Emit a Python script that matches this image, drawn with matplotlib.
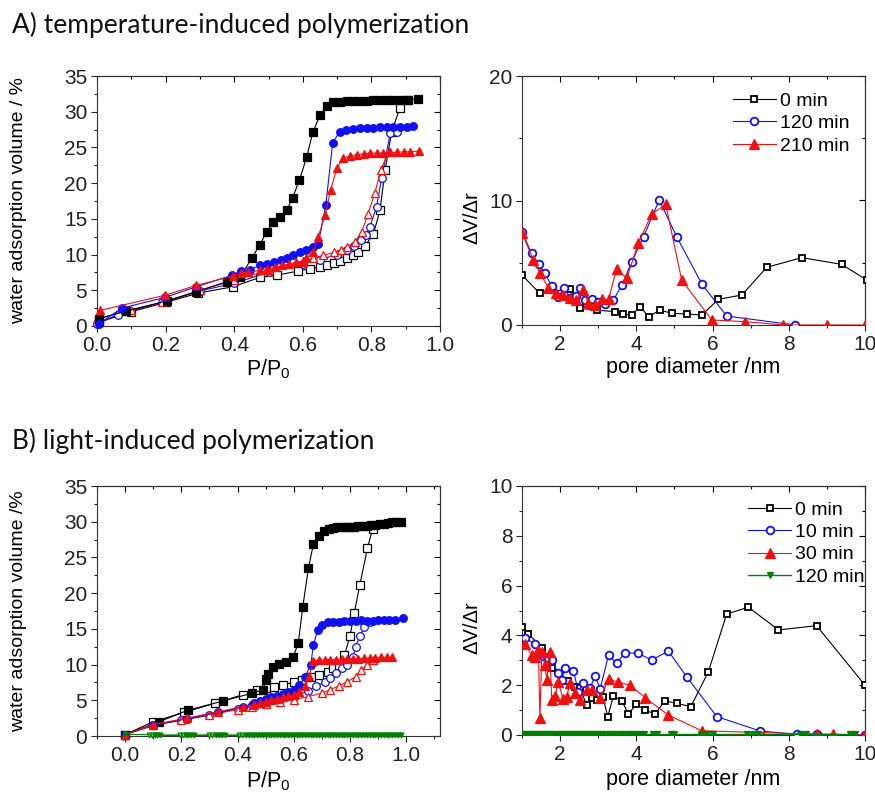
import matplotlib
matplotlib.use("Agg")
import matplotlib.pyplot as plt
from matplotlib.ticker import MultipleLocator, FormatStrFormatter

plt.rcParams['font.family'] = ['Liberation Sans', 'DejaVu Sans']
plt.rcParams['mathtext.fontset'] = 'custom'
plt.rcParams['mathtext.rm'] = 'Liberation Sans'
plt.rcParams['mathtext.it'] = 'Liberation Sans'

# ---------------- A) temperature-induced: water isotherms ----------------
a0_des_p = [0.005, 0.086, 0.203, 0.29, 0.378, 0.417, 0.451, 0.475, 0.495, 0.514, 0.534, 0.553, 0.57,
            0.59, 0.611, 0.629, 0.65, 0.67, 0.687, 0.709, 0.728, 0.747, 0.767, 0.786, 0.806, 0.825,
            0.845, 0.864, 0.883, 0.903, 0.937]
a0_des_v = [1.0, 2.1, 3.5, 4.8, 6.2, 6.8, 9.5, 11.4, 13.2, 14.5, 15.2, 16.2, 17.9, 20.4, 23.6, 27.1,
            29.5, 30.8, 31.3, 31.4, 31.5, 31.5, 31.5, 31.5, 31.6, 31.6, 31.6, 31.6, 31.6, 31.7, 31.8]
a0_ads_p = [0.005, 0.1, 0.2, 0.295, 0.397, 0.475, 0.524, 0.587, 0.621, 0.65, 0.67, 0.69, 0.709,
            0.728, 0.747, 0.762, 0.781, 0.806, 0.825, 0.84, 0.859, 0.883, 0.908]
a0_ads_v = [0.5, 2.0, 3.3, 4.6, 5.5, 6.8, 7.1, 7.7, 8.0, 8.3, 8.5, 8.8, 9.1, 9.5, 9.9, 10.3, 11.2,
            12.9, 16.2, 21.8, 27.2, 30.5, 31.6]

a120_des_p = [0.005, 0.072, 0.198, 0.29, 0.393, 0.42, 0.446, 0.475, 0.497, 0.516, 0.535, 0.553, 0.572,
              0.592, 0.609, 0.629, 0.645, 0.667, 0.687, 0.707, 0.726, 0.746, 0.766, 0.786, 0.806,
              0.825, 0.845, 0.864, 0.883, 0.903, 0.922]
a120_des_v = [0.3, 2.5, 4.0, 5.5, 7.1, 7.7, 7.9, 8.5, 8.7, 8.9, 9.2, 9.5, 9.9, 10.3, 10.6, 11.1, 11.5,
              16.9, 25.6, 27.2, 27.5, 27.6, 27.7, 27.7, 27.7, 27.8, 27.8, 27.8, 27.9, 27.9, 28.0]
a120_ads_p = [0.0, 0.06, 0.19, 0.3, 0.4, 0.5, 0.6, 0.65, 0.7, 0.73, 0.75, 0.77, 0.785, 0.796, 0.815,
              0.83, 0.855, 0.875]
a120_ads_v = [0.3, 1.6, 3.3, 4.9, 6.0, 7.5, 8.7, 9.3, 10.0, 10.6, 11.2, 12.0, 12.8, 13.9, 16.7,
              20.7, 27.0, 27.2]

a210_des_p = [0.01, 0.198, 0.29, 0.397, 0.42, 0.44, 0.475, 0.495, 0.52, 0.54, 0.56, 0.58, 0.6, 0.61,
              0.63, 0.645, 0.665, 0.681, 0.699, 0.718, 0.738, 0.757, 0.777, 0.796, 0.816, 0.835,
              0.855, 0.874, 0.894, 0.913, 0.94]
a210_des_v = [2.2, 4.3, 5.7, 7.0, 7.4, 7.5, 7.8, 8.0, 8.2, 8.5, 8.7, 8.9, 9.1, 9.5, 10.3, 12.5, 15.5,
              19.0, 22.1, 23.5, 23.8, 24.0, 24.1, 24.2, 24.2, 24.2, 24.3, 24.3, 24.4, 24.4, 24.5]
a210_ads_p = [0.0, 0.1, 0.19, 0.3, 0.4, 0.5, 0.6, 0.63, 0.66, 0.69, 0.71, 0.73, 0.752, 0.772, 0.79,
              0.81, 0.827, 0.85]
a210_ads_v = [1.0, 2.3, 3.3, 5.0, 6.4, 7.8, 9.0, 9.5, 9.9, 10.3, 10.7, 11.1, 11.8, 13.2, 15.7, 18.6,
              21.8, 24.4]

# ---------------- A) pore size distributions ----------------
a_psd0_d = [1.0, 1.47, 2.25, 2.52, 2.96, 3.44, 3.66, 3.88, 4.1, 4.32, 4.62, 4.93, 5.32, 5.72, 6.15,
            6.77, 7.42, 8.34, 9.39, 10.05]
a_psd0_v = [4.0, 2.54, 2.9, 1.34, 1.2, 1.07, 0.88, 0.8, 1.47, 0.67, 1.2, 0.94, 0.88, 0.8, 2.06,
            2.41, 4.63, 5.41, 4.87, 3.6]
a_psd120_d = [1.0, 1.25, 1.45, 1.6, 1.78, 1.95, 2.1, 2.26, 2.43, 2.52, 2.65, 2.83, 3.0, 3.18, 3.4,
              3.62, 3.88, 4.19, 4.6, 5.06, 5.72, 6.37, 8.17]
a_psd120_v = [7.5, 5.75, 4.87, 4.15, 3.13, 2.28, 2.94, 2.2, 2.33, 2.94, 2.0, 2.06, 1.87, 1.66, 2.0,
              3.21, 5.09, 7.09, 10.04, 7.09, 3.29, 0.72, 0.0]
a_psd210_d = [1.0, 1.3, 1.47, 1.69, 1.89, 2.08, 2.26, 2.43, 2.61, 2.74, 2.92, 3.09, 3.27, 3.48,
              3.75, 4.05, 4.4, 4.77, 5.19, 5.98, 6.85, 7.86, 9.0, 10.0]
a_psd210_v = [7.4, 5.2, 4.15, 3.0, 2.54, 2.4, 2.2, 2.0, 2.8, 1.74, 1.6, 2.06, 2.06, 4.47, 3.75,
              6.56, 8.9, 9.69, 3.61, 0.4, 0.27, 0.0, 0.0, 0.0]

# ---------------- B) light-induced: water isotherms ----------------
b0_des_p = [0.0, 0.119, 0.222, 0.349, 0.452, 0.492, 0.5, 0.509, 0.525, 0.549, 0.573, 0.598, 0.616,
            0.632, 0.652, 0.67, 0.69, 0.707, 0.725, 0.74, 0.755, 0.77, 0.785, 0.8, 0.815, 0.83,
            0.845, 0.86, 0.875, 0.89, 0.905, 0.92, 0.935, 0.95, 0.965, 0.98]
b0_des_v = [0.2, 1.96, 3.6, 4.9, 6.0, 6.5, 8.0, 8.7, 9.7, 10.1, 10.4, 11.1, 13.0, 18.1, 23.5, 26.9,
            28.0, 28.7, 29.0, 29.1, 29.2, 29.2, 29.3, 29.3, 29.3, 29.4, 29.4, 29.4, 29.5, 29.6,
            29.7, 29.7, 29.8, 29.9, 29.9, 29.9]
b0_ads_p = [0.0, 0.1, 0.21, 0.32, 0.42, 0.47, 0.5, 0.53, 0.56, 0.6, 0.63, 0.66, 0.69, 0.72, 0.74,
            0.76, 0.78, 0.8, 0.815, 0.835, 0.862, 0.88]
b0_ads_v = [0.2, 2.0, 3.3, 4.6, 5.8, 6.4, 6.7, 6.9, 7.2, 7.5, 7.8, 8.2, 8.6, 9.0, 9.5, 10.0, 11.3,
            14.0, 17.2, 21.2, 26.3, 29.0]

b10_des_p = [0.0, 0.1, 0.22, 0.33, 0.42, 0.46, 0.48, 0.5, 0.52, 0.54, 0.56, 0.58, 0.6, 0.62, 0.64,
             0.66, 0.67, 0.685, 0.7, 0.72, 0.74, 0.76, 0.78, 0.8, 0.82, 0.84, 0.86, 0.88, 0.9, 0.92,
             0.94, 0.96, 0.99]
b10_des_v = [0.2, 1.5, 2.4, 3.3, 4.1, 4.6, 4.9, 5.2, 5.4, 5.6, 5.9, 6.2, 6.5, 7.1, 8.3, 9.9, 12.8,
             14.8, 15.6, 15.9, 16.0, 16.0, 16.1, 16.1, 16.1, 16.2, 16.1, 16.1, 16.2, 16.2, 16.3,
             16.3, 16.5]
b10_ads_p = [0.0, 0.1, 0.2, 0.3, 0.4, 0.45, 0.5, 0.55, 0.6, 0.65, 0.68, 0.71, 0.73, 0.75, 0.77,
             0.79, 0.81, 0.82, 0.835, 0.85, 0.87]
b10_ads_v = [0.2, 1.5, 2.2, 2.9, 3.8, 4.3, 4.7, 5.1, 5.5, 6.3, 7.0, 7.5, 8.1, 8.8, 9.5, 10.0, 11.0,
             12.5, 14.0, 15.2, 16.0]

b30_des_p = [0.0, 0.1, 0.22, 0.33, 0.42, 0.46, 0.48, 0.5, 0.52, 0.54, 0.56, 0.58, 0.6, 0.62, 0.64,
             0.655, 0.67, 0.69, 0.71, 0.73, 0.75, 0.77, 0.79, 0.81, 0.83, 0.85, 0.87, 0.89, 0.91,
             0.93, 0.95]
b30_des_v = [0.2, 1.6, 2.5, 3.4, 4.1, 4.4, 4.6, 4.8, 5.0, 5.2, 5.4, 5.6, 5.8, 6.2, 7.0, 8.4, 10.5,
             10.6, 10.7, 10.7, 10.7, 10.8, 10.8, 10.8, 10.8, 10.9, 10.9, 10.9, 11.0, 11.0, 11.0]
b30_ads_p = [0.0, 0.1, 0.2, 0.3, 0.4, 0.45, 0.5, 0.55, 0.6, 0.65, 0.7, 0.73, 0.76, 0.79, 0.82,
             0.84, 0.86, 0.88]
b30_ads_v = [0.2, 1.5, 2.3, 3.0, 3.7, 4.1, 4.5, 4.8, 5.1, 5.5, 6.0, 6.5, 7.0, 7.6, 8.3, 9.2, 10.0,
             10.6]

b120_des_p = [0.0, 0.105, 0.115, 0.125, 0.215, 0.225, 0.235, 0.245, 0.325, 0.335, 0.345, 0.355,
              0.43, 0.44, 0.45, 0.46, 0.47, 0.48, 0.49, 0.5, 0.51, 0.52, 0.53, 0.54, 0.55, 0.56,
              0.57, 0.58, 0.59, 0.6, 0.61, 0.62, 0.63, 0.64, 0.65, 0.66, 0.67, 0.68, 0.69, 0.7,
              0.71, 0.72, 0.73, 0.74, 0.75, 0.76, 0.77, 0.78, 0.79, 0.8, 0.81, 0.82, 0.83, 0.84,
              0.85, 0.86, 0.87, 0.88, 0.89, 0.9, 0.91, 0.92, 0.93, 0.94, 0.95, 0.96, 0.97, 0.98]
b120_des_v = [0.25] + [0.15] * 67
b120_ads_p = [0.085, 0.095, 0.195, 0.205, 0.3, 0.31, 0.405, 0.415]
b120_ads_v = [0.15, 0.15, 0.15, 0.15, 0.15, 0.15, 0.15, 0.15]

# ---------------- B) pore size distributions ----------------
b_psd0_d = [1.0, 1.17, 1.52, 1.78, 2.22, 2.39, 2.52, 2.7, 2.83, 2.96, 3.12, 3.25, 3.4, 3.62, 3.79,
            4.0, 4.23, 4.49, 4.75, 5.06, 5.43, 5.89, 6.37, 6.94, 7.73, 8.73, 10.0]
b_psd0_v = [4.35, 4.06, 3.5, 2.68, 2.17, 1.94, 1.87, 1.2, 1.47, 1.4, 1.54, 0.74, 1.57, 1.38, 0.84,
            1.24, 1.0, 0.84, 1.37, 1.27, 1.14, 2.54, 4.86, 5.13, 4.22, 4.39, 2.0]
b_psd10_d = [1.08, 1.34, 1.56, 1.69, 1.78, 1.95, 2.04, 2.13, 2.35, 2.48, 2.6, 2.78, 2.92, 3.05,
             3.27, 3.48, 3.7, 4.05, 4.4, 4.84, 5.32, 6.11, 7.25, 8.21, 8.73, 10.0]
b_psd10_v = [3.88, 3.65, 3.17, 3.1, 3.0, 2.47, 2.2, 2.7, 2.57, 1.74, 2.07, 1.87, 2.38, 1.85, 3.21,
             2.88, 3.3, 3.28, 3.01, 3.37, 2.34, 0.74, 0.16, 0.03, 0.03, 0.0]
b_psd30_d = [1.08, 1.25, 1.34, 1.43, 1.47, 1.52, 1.6, 1.65, 1.73, 1.78, 1.87, 1.95, 2.08, 2.17,
             2.26, 2.39, 2.52, 2.7, 2.83, 3.05, 3.27, 3.53, 3.84, 4.23, 4.84, 5.72, 8.73, 9.17, 10.0]
b_psd30_v = [3.65, 3.21, 3.12, 3.41, 0.67, 3.35, 2.81, 2.21, 3.35, 1.41, 1.57, 2.14, 1.43, 1.54,
             2.07, 1.67, 1.41, 1.81, 1.81, 1.47, 2.24, 2.12, 2.0, 1.5, 0.8, 0.17, 0.03, 0.03, 0.0]
b_psd120_d = [1.0, 1.08, 1.16, 1.24, 1.32, 1.4, 1.48, 1.56, 1.64, 1.72, 1.8, 1.88, 1.96, 2.04,
              2.12, 2.2, 2.28, 2.36, 2.44, 2.52, 2.6, 2.68, 2.76, 2.84, 2.92, 3.0, 3.1, 3.2, 3.3,
              3.4, 3.5, 3.6, 3.7, 3.8, 3.9, 4.0, 4.1, 4.2, 4.45, 4.55, 4.9, 5.0, 5.7, 5.85, 6.0,
              6.9, 7.05, 7.2, 8.3, 8.45, 9.6, 9.75]
b_psd120_v = [0.05] * 52

# labels
iso_ylabel_a = "water adsorption volume / %"
iso_ylabel_b = "water adsorption volume /%"
iso_xlabel = "P/P$_0$"
psd_ylabel = "ΔV/Δr"
psd_xlabel = "pore diameter /nm"
title_a = "A) temperature-induced polymerization"
title_b = "B) light-induced polymerization"
legend_a = ["0 min", "120 min", "210 min"]
legend_b = ["0 min", "10 min", "30 min", "120 min"]

BLACK = "#000000"
BLUE = "#1010f0"
RED = "#f01010"
GREEN = "#008000"

TICK_FS = 15
LABEL_FS = 15.5
YLABEL_FS = 14
LEG_FS = 14

fig = plt.figure(figsize=(8.75, 7.92), dpi=100)
W, H = 875.0, 792.0


def rect(x0, y0, x1, y1):
    return [x0 / W, 1 - y1 / H, (x1 - x0) / W, (y1 - y0) / H]


ax_a1 = fig.add_axes(rect(97, 76, 440, 326))
ax_a2 = fig.add_axes(rect(522, 76, 865, 325))
ax_b1 = fig.add_axes(rect(97, 486, 440, 736))
ax_b2 = fig.add_axes(rect(522, 486, 865, 735))


def style_axes(ax):
    for s in ax.spines.values():
        s.set_linewidth(0.8)
        s.set_color("#333333")
    ax.tick_params(which="both", direction="out", top=False, right=False,
                   labelsize=TICK_FS, colors="#222222", width=0.8, pad=3)
    ax.tick_params(which="major", length=4)
    ax.tick_params(which="minor", length=2.5)
    sec_x = ax.secondary_xaxis("top")
    sec_y = ax.secondary_yaxis("right")
    for sec in (sec_x, sec_y):
        sec.tick_params(which="both", direction="in", width=0.8)
        sec.tick_params(which="major", length=4)
        sec.tick_params(which="minor", length=2.5)
    sec_x.tick_params(labeltop=False)
    sec_y.tick_params(labelright=False)
    return sec_x, sec_y


def plot_branch(ax, x, y, color, marker, filled, ms=5.5):
    ax.plot(x, y, "-", color=color, lw=0.8, marker=marker, ms=ms,
            mfc=color if filled else "white", mec=color, mew=0.9, clip_on=False, zorder=3)


# ---- A left ----
ax = ax_a1
plot_branch(ax, a0_ads_p, a0_ads_v, BLACK, "s", False)
plot_branch(ax, a120_ads_p, a120_ads_v, BLUE, "o", False)
plot_branch(ax, a210_ads_p, a210_ads_v, RED, "^", False)
plot_branch(ax, a0_des_p, a0_des_v, BLACK, "s", True)
plot_branch(ax, a120_des_p, a120_des_v, BLUE, "o", True)
plot_branch(ax, a210_des_p, a210_des_v, RED, "^", True)
ax.set_xlim(0, 1.0)
ax.set_ylim(0, 35)

# ---- B left ----
ax = ax_b1
plot_branch(ax, b0_ads_p, b0_ads_v, BLACK, "s", False)
plot_branch(ax, b10_ads_p, b10_ads_v, BLUE, "o", False)
plot_branch(ax, b30_ads_p, b30_ads_v, RED, "^", False)
plot_branch(ax, b120_ads_p, b120_ads_v, GREEN, "v", False, ms=3.5)
plot_branch(ax, b0_des_p, b0_des_v, BLACK, "s", True)
plot_branch(ax, b10_des_p, b10_des_v, BLUE, "o", True)
plot_branch(ax, b30_des_p, b30_des_v, RED, "^", True)
plot_branch(ax, b120_des_p, b120_des_v, GREEN, "v", True, ms=3.5)
ax.set_xlim(-0.1, 1.12)
ax.set_ylim(0, 35)

for ax, ylab in ((ax_a1, iso_ylabel_a), (ax_b1, iso_ylabel_b)):
    sx, sy = style_axes(ax)
    ax.xaxis.set_major_locator(MultipleLocator(0.2))
    ax.xaxis.set_minor_locator(MultipleLocator(0.1))
    ax.yaxis.set_major_locator(MultipleLocator(5))
    ax.yaxis.set_minor_locator(MultipleLocator(2.5))
    sx.xaxis.set_major_locator(MultipleLocator(0.2))
    sx.xaxis.set_minor_locator(MultipleLocator(0.1))
    sy.yaxis.set_major_locator(MultipleLocator(5))
    sy.yaxis.set_minor_locator(MultipleLocator(2.5))
    ax.xaxis.set_major_formatter(FormatStrFormatter("%.1f"))
    ax.set_xlabel(iso_xlabel, fontsize=LABEL_FS)
    ax.set_ylabel(ylab, fontsize=YLABEL_FS)
    ax.yaxis.set_label_coords(-0.205, 0.5)

ax_a1.xaxis.set_label_coords(0.5, -0.125)
ax_b1.xaxis.set_label_coords(0.5, -0.135)

# ---- A right ----
ax = ax_a2
ax.plot(a_psd0_d, a_psd0_v, "-", color=BLACK, lw=0.8, marker="s", ms=4.5, mfc="white",
        mec=BLACK, mew=1.3, label=legend_a[0], zorder=3)
ax.plot(a_psd120_d, a_psd120_v, "-", color=BLUE, lw=0.8, marker="o", ms=5.5, mfc="white",
        mec=BLUE, mew=1.3, label=legend_a[1], zorder=3)
ax.plot(a_psd210_d, a_psd210_v, "-", color=RED, lw=0.8, marker="^", ms=6.5, mfc=RED,
        mec=RED, mew=0.9, label=legend_a[2], zorder=3)
ax.set_xlim(1, 10)
ax.set_ylim(0, 20)

# ---- B right ----
ax = ax_b2
ax.plot(b_psd0_d, b_psd0_v, "-", color=BLACK, lw=0.8, marker="s", ms=4.5, mfc="white",
        mec=BLACK, mew=1.3, label=legend_b[0], zorder=3)
ax.plot(b_psd10_d, b_psd10_v, "-", color=BLUE, lw=0.8, marker="o", ms=5.5, mfc="white",
        mec=BLUE, mew=1.3, label=legend_b[1], zorder=3)
ax.plot(b_psd30_d, b_psd30_v, "-", color=RED, lw=0.8, marker="^", ms=6.5, mfc=RED,
        mec=RED, mew=0.9, label=legend_b[2], zorder=3)
ax.plot(b_psd120_d, b_psd120_v, "-", color=GREEN, lw=1.0, marker="v", ms=4.5, mfc=GREEN,
        mec=GREEN, mew=0.9, label=legend_b[3], zorder=3)
ax.set_xlim(1, 10)
ax.set_ylim(0, 10)

for ax, ymaj, leg_anchor in ((ax_a2, 10, (0.615, 0.935)), (ax_b2, 2, (0.66, 0.94))):
    sx, sy = style_axes(ax)
    ax.xaxis.set_major_locator(MultipleLocator(2))
    ax.xaxis.set_minor_locator(MultipleLocator(1))
    ax.yaxis.set_major_locator(MultipleLocator(ymaj))
    ax.yaxis.set_minor_locator(MultipleLocator(ymaj / 2))
    sx.xaxis.set_major_locator(MultipleLocator(2))
    sx.xaxis.set_minor_locator(MultipleLocator(1))
    sy.yaxis.set_major_locator(MultipleLocator(ymaj))
    sy.yaxis.set_minor_locator(MultipleLocator(ymaj / 2))
    ax.set_xlabel(psd_xlabel, fontsize=LABEL_FS)
    ax.set_ylabel(psd_ylabel, fontsize=YLABEL_FS + 0.5)
    ax.yaxis.set_label_coords(-0.117, 0.43)
    ax.legend(loc="upper left", bbox_to_anchor=leg_anchor, frameon=False, fontsize=LEG_FS,
              handlelength=2.2, handletextpad=0.2, borderpad=0, borderaxespad=0,
              labelspacing=0.25, numpoints=1)

ax_a2.xaxis.set_label_coords(0.5, -0.13)
ax_b2.xaxis.set_label_coords(0.5, -0.135)

# panel headings
fig.text(12 / W, 1 - 25 / H, title_a, fontsize=19, family=["Lato", "DejaVu Sans"],
         va="center", ha="left", color="#111111")
fig.text(12 / W, 1 - 441 / H, title_b, fontsize=19, family=["Lato", "DejaVu Sans"],
         va="center", ha="left", color="#111111")

fig.savefig("out.png", dpi=100, facecolor="white")
